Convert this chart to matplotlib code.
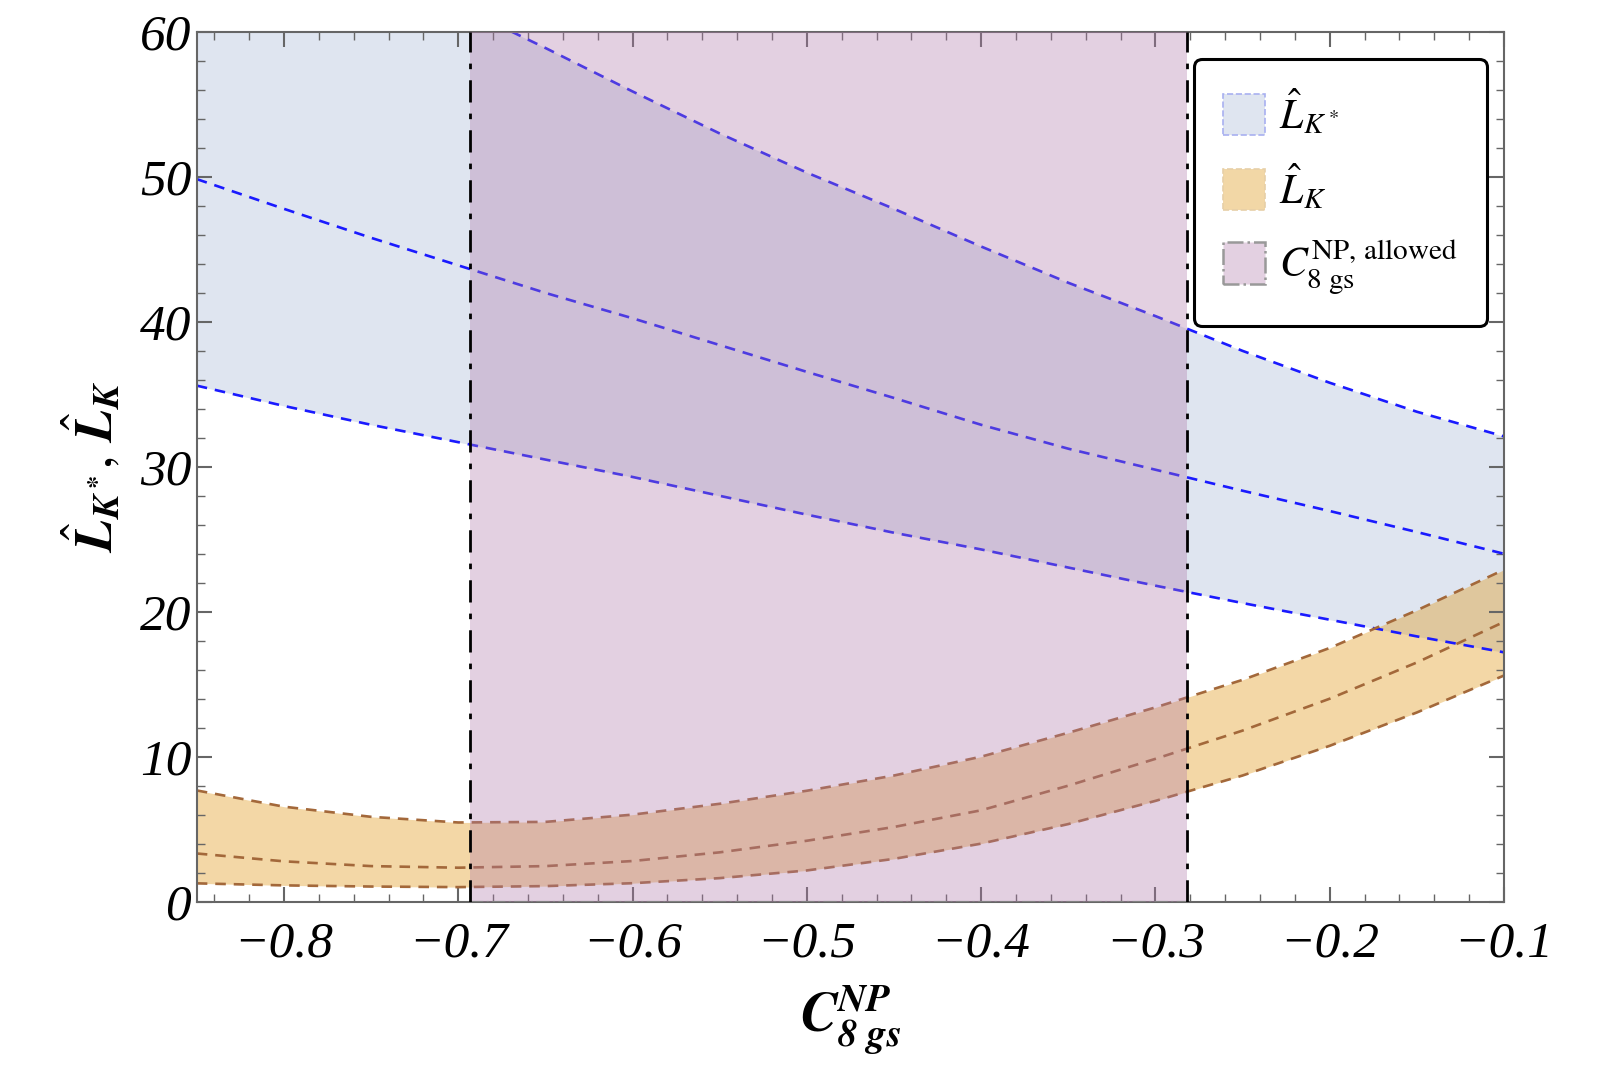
import matplotlib
matplotlib.use("Agg")
import matplotlib.pyplot as plt
import matplotlib.patches as mpatches
from matplotlib.ticker import MultipleLocator, FuncFormatter

plt.rcParams['mathtext.fontset'] = 'stix'
plt.rcParams['font.family'] = ['Liberation Serif', 'DejaVu Serif']

# C8gs^NP grid and curves
c8 = [-0.85, -0.80, -0.75, -0.70, -0.65, -0.60, -0.55, -0.50,
      -0.45, -0.40, -0.35, -0.30, -0.25, -0.20, -0.15, -0.10]

# L_K* band (blue)
lks_hi = [71.2, 68.0, 64.9, 61.8, 58.9, 55.9, 53.0, 50.3,
          47.8, 45.2, 42.7, 40.4, 38.0, 35.8, 33.8, 32.1]
lks_mid = [49.85, 47.8, 45.8, 43.9, 42.0, 40.25, 38.4, 36.55,
           34.75, 32.9, 31.25, 29.8, 28.35, 26.95, 25.5, 24.0]
lks_lo = [35.6, 34.2, 32.9, 31.7, 30.5, 29.3, 28.0, 26.7,
          25.45, 24.3, 23.05, 21.8, 20.6, 19.45, 18.3, 17.2]

# L_K band (orange)
lk_hi = [7.67, 6.55, 5.85, 5.46, 5.5, 6.0, 6.75, 7.65,
         8.7, 10.0, 11.65, 13.4, 15.3, 17.5, 20.1, 22.9]
lk_mid = [3.32, 2.78, 2.45, 2.34, 2.45, 2.8, 3.4, 4.2,
          5.15, 6.3, 8.0, 9.85, 11.8, 14.0, 16.5, 19.3]
lk_lo = [1.26, 1.12, 1.04, 1.0, 1.07, 1.27, 1.62, 2.15,
         2.95, 4.0, 5.35, 6.95, 8.7, 10.75, 13.05, 15.6]

# allowed C8gs^NP range
allowed = [-0.693, -0.282]

blue_fill = '#dfe5f0'
blue_line = '#1a1aff'
orange_fill = (225/255, 155/255, 33/255)
orange_line = '#a3683a'
purple = (175/255, 121/255, 169/255)

fig = plt.figure(figsize=(16, 10.67), dpi=100)
ax = fig.add_axes([0.123, 0.155, 0.817, 0.815])

ax.fill_between(c8, lks_lo, lks_hi, color=blue_fill, lw=0, zorder=1)
ax.fill_between(c8, lk_lo, lk_hi, color=orange_fill, alpha=0.4, lw=0, zorder=1.5)

for ys in (lks_lo, lks_mid, lks_hi):
    ax.plot(c8, ys, color=blue_line, lw=1.9, dashes=(4, 3), zorder=2)
for ys in (lk_lo, lk_mid, lk_hi):
    ax.plot(c8, ys, color=orange_line, lw=1.9, dashes=(4, 3), zorder=2)

ax.axvspan(allowed[0], allowed[1], color=purple, alpha=0.35, lw=0, zorder=3)
ax.plot(allowed, [0, 0], color='gray', lw=1.5, ls='-.', zorder=3.5)
for xv in allowed:
    ax.axvline(xv, color='black', lw=2, dashes=(8, 4, 2, 4), zorder=4)

ax.set_xlim(-0.85, -0.1)
ax.set_ylim(0, 60)

ax.xaxis.set_major_locator(MultipleLocator(0.1))
ax.xaxis.set_minor_locator(MultipleLocator(0.02))
ax.yaxis.set_major_locator(MultipleLocator(10))
ax.yaxis.set_minor_locator(MultipleLocator(2))

ax.xaxis.set_major_formatter(FuncFormatter(lambda v, _: f'{v:.1f}'.replace('-', '\u2212')))
ax.yaxis.set_major_formatter(FuncFormatter(lambda v, _: f'{v:.0f}'))

ax.tick_params(which='both', direction='in', top=True, right=True, color='#666666')
ax.tick_params(which='major', length=11, width=1.5)
ax.tick_params(which='minor', length=6, width=1.0)
ax.tick_params(axis='x', which='major', pad=14)
ax.tick_params(axis='y', which='major', pad=4)
for lab in ax.get_xticklabels() + ax.get_yticklabels():
    lab.set_fontsize(37)
    lab.set_fontstyle('italic')
for sp in ax.spines.values():
    sp.set_color('#666666')
    sp.set_linewidth(1.5)

ax.set_xlabel(r'$\mathbfit{C}_{\mathbfit{8\ gs}}^{\mathbfit{NP}}$', fontsize=40, labelpad=12)
ax.set_ylabel(r'$\hat{\mathbfit{L}}_{\mathbfit{K^*}},\, \hat{\mathbfit{L}}_{\mathbfit{K}}$', fontsize=38, labelpad=12)

handles = [
    mpatches.Patch(facecolor=blue_fill, edgecolor='#a8b0f0', ls='--', lw=1.2),
    mpatches.Patch(facecolor='#f2d7a6', edgecolor='#e6cfa8', ls='--', lw=1.2),
    mpatches.Patch(facecolor='#e3d0e1', edgecolor='#999999', ls='-.', lw=1.8),
]
labels = [r'$\hat{L}_{K^*}$', r'$\hat{L}_{K}$', r'$C_{8\ \mathrm{gs}}^{\mathrm{NP,\,allowed}}$']
leg = ax.legend(handles, labels, loc='upper right', bbox_to_anchor=(0.9295, 0.945),
                bbox_transform=fig.transFigure, fontsize=30, frameon=True,
                handlelength=1.0, handleheight=1.15, handletextpad=0.35,
                labelspacing=0.6, borderpad=0.7, borderaxespad=0, fancybox=True)
leg.get_frame().set_edgecolor('black')
leg.get_frame().set_linewidth(2.2)
leg.get_frame().set_alpha(1)
leg.set_zorder(10)

fig.savefig('out.png', dpi=100)
